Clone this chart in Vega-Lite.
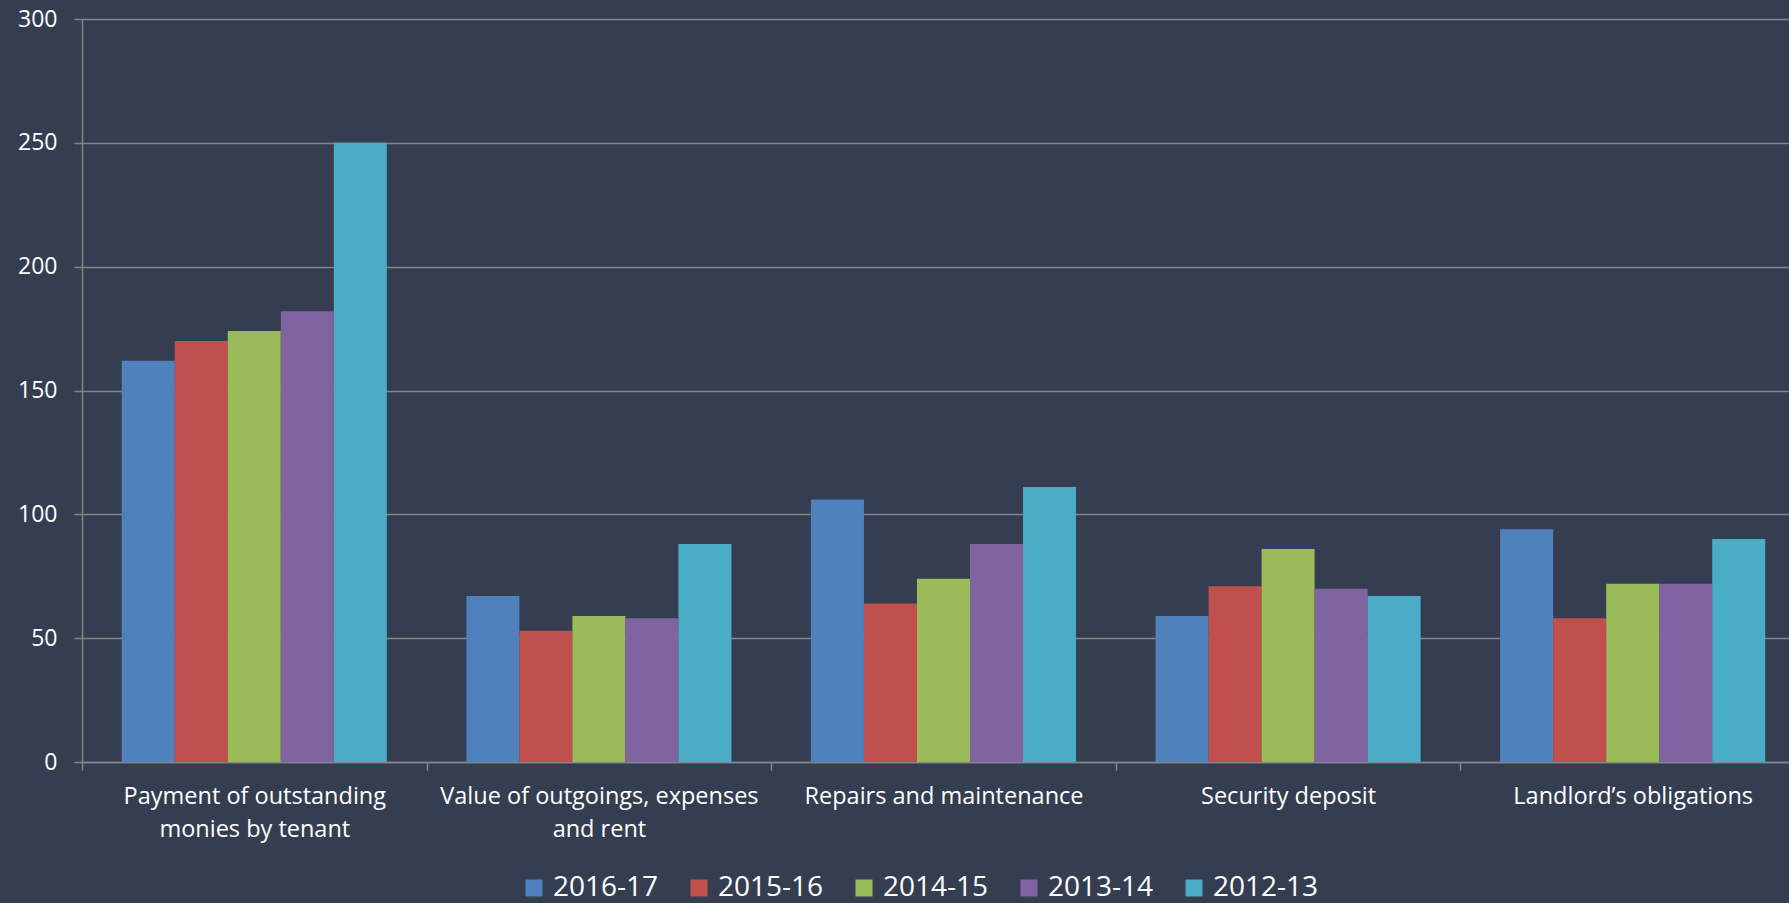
{
  "$schema": "https://vega.github.io/schema/vega-lite/v6.json",
  "width": 1707,
  "height": 743,
  "autosize": {"type": "none"},
  "padding": {"left": 82, "top": 19, "right": 0, "bottom": 141},
  "background": "#343E50",
  "config": {"view": {"stroke": null}, "font": "Open Sans"},
  "data": {"values": [
    {"category": "Payment of outstanding\nmonies by tenant", "year": "2016-17", "value": 162},
    {"category": "Payment of outstanding\nmonies by tenant", "year": "2015-16", "value": 170},
    {"category": "Payment of outstanding\nmonies by tenant", "year": "2014-15", "value": 174},
    {"category": "Payment of outstanding\nmonies by tenant", "year": "2013-14", "value": 182},
    {"category": "Payment of outstanding\nmonies by tenant", "year": "2012-13", "value": 250},
    {"category": "Value of outgoings, expenses\nand rent", "year": "2016-17", "value": 67},
    {"category": "Value of outgoings, expenses\nand rent", "year": "2015-16", "value": 53},
    {"category": "Value of outgoings, expenses\nand rent", "year": "2014-15", "value": 59},
    {"category": "Value of outgoings, expenses\nand rent", "year": "2013-14", "value": 58},
    {"category": "Value of outgoings, expenses\nand rent", "year": "2012-13", "value": 88},
    {"category": "Repairs and maintenance", "year": "2016-17", "value": 106},
    {"category": "Repairs and maintenance", "year": "2015-16", "value": 64},
    {"category": "Repairs and maintenance", "year": "2014-15", "value": 74},
    {"category": "Repairs and maintenance", "year": "2013-14", "value": 88},
    {"category": "Repairs and maintenance", "year": "2012-13", "value": 111},
    {"category": "Security deposit", "year": "2016-17", "value": 59},
    {"category": "Security deposit", "year": "2015-16", "value": 71},
    {"category": "Security deposit", "year": "2014-15", "value": 86},
    {"category": "Security deposit", "year": "2013-14", "value": 70},
    {"category": "Security deposit", "year": "2012-13", "value": 67},
    {"category": "Landlord’s obligations", "year": "2016-17", "value": 94},
    {"category": "Landlord’s obligations", "year": "2015-16", "value": 58},
    {"category": "Landlord’s obligations", "year": "2014-15", "value": 72},
    {"category": "Landlord’s obligations", "year": "2013-14", "value": 72},
    {"category": "Landlord’s obligations", "year": "2012-13", "value": 90}
  ]},
  "mark": {"type": "bar"},
  "encoding": {
    "x": {
      "field": "category",
      "type": "nominal",
      "sort": null,
      "scale": {"range": [0, 1723], "paddingInner": 0, "paddingOuter": 0},
      "axis": {
        "title": null,
        "labelAngle": 0,
        "labelExpr": "split(datum.label, '\\n')",
        "labelFontSize": 23.5,
        "labelColor": "#ffffff",
        "labelPadding": 14,
        "labelLineHeight": 33,
        "labelLimit": 500,
        "tickBand": "extent",
        "tickSize": 8,
        "tickWidth": 1.5,
        "tickColor": "#858585",
        "domainColor": "#858585",
        "domainWidth": 1.5
      }
    },
    "xOffset": {
      "field": "year",
      "type": "nominal",
      "sort": ["2016-17", "2015-16", "2014-15", "2013-14", "2012-13"],
      "scale": {"paddingInner": 0, "paddingOuter": 0.75}
    },
    "y": {
      "field": "value",
      "type": "quantitative",
      "scale": {"domain": [0, 300], "nice": false},
      "axis": {
        "title": null,
        "values": [0, 50, 100, 150, 200, 250, 300],
        "labelFontSize": 23,
        "labelColor": "#ffffff",
        "labelPadding": 17,
        "tickSize": 8,
        "tickWidth": 1.5,
        "tickColor": "#858585",
        "gridColor": "#858585",
        "gridWidth": 1.5,
        "domainColor": "#858585",
        "domainWidth": 1.5
      }
    },
    "color": {
      "field": "year",
      "type": "nominal",
      "sort": ["2016-17", "2015-16", "2014-15", "2013-14", "2012-13"],
      "scale": {
        "domain": ["2016-17", "2015-16", "2014-15", "2013-14", "2012-13"],
        "range": ["#4F81BD", "#C0504D", "#9BBB59", "#8064A2", "#4BACC6"]
      },
      "legend": {
        "orient": "none",
        "legendX": 438,
        "legendY": 855,
        "direction": "horizontal",
        "title": null,
        "symbolType": "square",
        "symbolSize": 289,
        "symbolStrokeWidth": 0,
        "labelFontSize": 28,
        "labelColor": "#ffffff",
        "labelOffset": 5,
        "columnPadding": 26,
        "padding": 0
      }
    }
  }
}
